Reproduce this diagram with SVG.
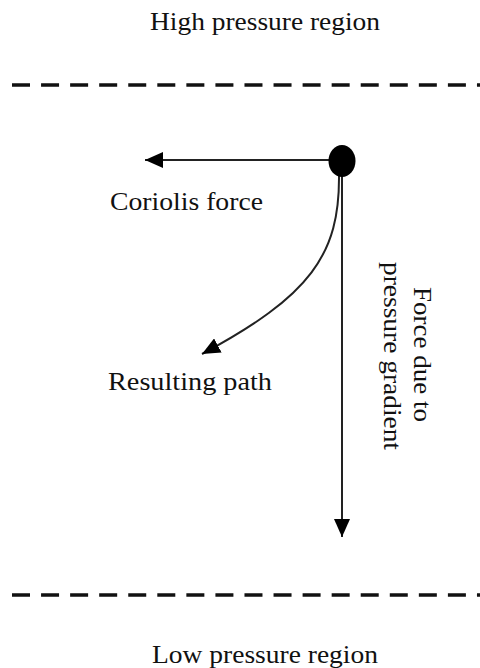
<svg xmlns="http://www.w3.org/2000/svg" width="480" height="668" viewBox="0 0 480 668">
<style>
.lbl{font-family:"Liberation Serif","Times New Roman",serif;font-size:25px;fill:#111}
.dash{stroke:#111;stroke-width:3.5;stroke-dasharray:18 11.06;fill:none}
.arr{stroke:#222;stroke-width:2;fill:none;marker-end:url(#ah)}
</style>
<defs>
<marker id="ah" markerUnits="userSpaceOnUse" markerWidth="18" markerHeight="16" refX="18" refY="8" orient="auto">
<path d="M0,0 L18,8 L0,16 z" fill="#000"/>
</marker>
</defs>
<rect width="480" height="668" fill="#fff"/>
<g id="high-region">
<text class="lbl" x="150" y="30" textLength="230" lengthAdjust="spacingAndGlyphs">High pressure region</text>
<line class="dash" x1="12" y1="85" x2="480" y2="85"/>
</g>
<g id="low-region">
<line class="dash" x1="12" y1="595" x2="480" y2="595"/>
<text class="lbl" x="152" y="663" textLength="226" lengthAdjust="spacingAndGlyphs">Low pressure region</text>
</g>
<g id="connectors">
<line class="arr" x1="335" y1="160" x2="145" y2="160"/>
<line class="arr" x1="342" y1="165" x2="342" y2="537"/>
<path class="arr" d="M339,174 C340,255 310,296 202,354"/>
</g>
<g id="particle">
<ellipse cx="342" cy="161" rx="13.5" ry="16" fill="#000"/>
</g>
<g id="coriolis-label">
<text class="lbl" x="110" y="210" textLength="153" lengthAdjust="spacingAndGlyphs">Coriolis force</text>
</g>
<g id="path-label">
<text class="lbl" x="108" y="390" textLength="164" lengthAdjust="spacingAndGlyphs">Resulting path</text>
</g>
<g id="gradient-label">
<text class="lbl" transform="translate(414,287) rotate(90)" x="0" y="0" textLength="135" lengthAdjust="spacingAndGlyphs">Force due to</text>
<text class="lbl" transform="translate(384,262) rotate(90)" x="0" y="0" textLength="188" lengthAdjust="spacingAndGlyphs">pressure gradient</text>
</g>
</svg>
